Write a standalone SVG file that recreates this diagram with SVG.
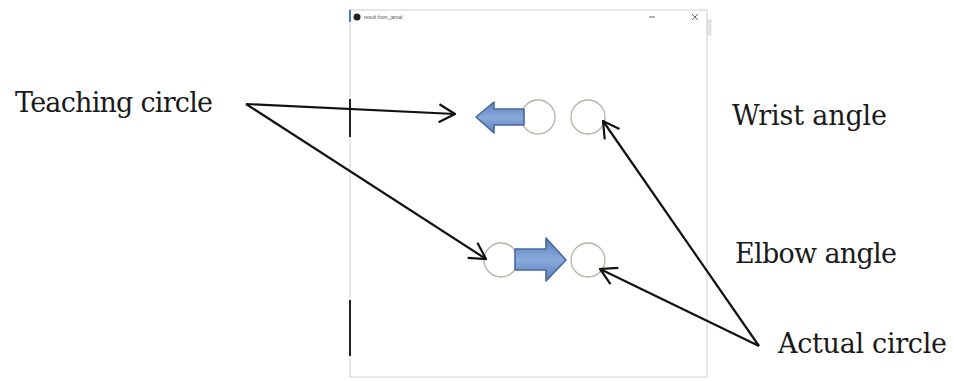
<svg xmlns="http://www.w3.org/2000/svg" width="954" height="381" viewBox="0 0 954 381">
<defs>
<style>
.lbl{font-family:"DejaVu Serif","Liberation Serif",serif;font-size:27px;fill:#1a1a1a}
.conn{stroke:#111;stroke-width:2.2;fill:none}
.circ{fill:#fff;stroke:#b8b4a8;stroke-width:1.3}
.blk{fill:url(#bg);stroke:#45689e;stroke-width:1.6;stroke-linejoin:round}
</style>
<linearGradient id="bg" x1="0" y1="0" x2="0" y2="1">
<stop offset="0" stop-color="#5a7fb8"/>
<stop offset="0.5" stop-color="#8aaadc"/>
<stop offset="1" stop-color="#5a7fb8"/>
</linearGradient>
<marker id="ah" viewBox="0 0 18 20" refX="17" refY="10" markerWidth="18" markerHeight="20" markerUnits="userSpaceOnUse" orient="auto">
<path d="M1,1 L17,10 L1,19" fill="none" stroke="#111" stroke-width="2.2"/>
</marker>
</defs>
<rect width="954" height="381" fill="#fff"/>
<g id="window">
<rect x="350" y="10" width="357" height="367" fill="#fff" stroke="#d0d0d0" stroke-width="1"/>
<line x1="350" y1="10" x2="350" y2="22" stroke="#4a78c8" stroke-width="2"/>
<circle cx="357" cy="17" r="3.5" fill="#222"/>
<text x="364" y="19" font-family="Liberation Sans,sans-serif" font-size="5" fill="#555">result from_jamal</text>
<line x1="649" y1="17" x2="655" y2="17" stroke="#666" stroke-width="1"/>
<path d="M692,14 L698,20 M698,14 L692,20" stroke="#666" stroke-width="1"/>
<rect x="707" y="20" width="4" height="15" fill="#e6e6e6" stroke="#c8c8c8" stroke-width="0.5"/>
<line x1="350" y1="99" x2="350" y2="137" stroke="#222" stroke-width="2"/>
<line x1="350" y1="300" x2="350" y2="356" stroke="#222" stroke-width="2"/>
</g>
<g id="wrist-teaching">
<circle class="circ" cx="538" cy="117" r="17"/>
<path class="blk" d="M476,117 L494,102 L494,109 L524,109 L524,125 L494,125 L494,133 Z"/>
</g>
<g id="wrist-actual">
<circle class="circ" cx="588" cy="117" r="17"/>
</g>
<g id="elbow-teaching">
<circle class="circ" cx="501" cy="260" r="17"/>
<path class="blk" d="M515,249 L546,249 L546,238 L566,260 L546,281 L546,270 L515,270 Z"/>
</g>
<g id="elbow-actual">
<circle class="circ" cx="588" cy="260" r="17"/>
</g>
<g id="labels">
<text class="lbl" x="15" y="112" textLength="198">Teaching circle</text>
<text class="lbl" x="732" y="125" textLength="155">Wrist angle</text>
<text class="lbl" x="735" y="263" textLength="162">Elbow angle</text>
<text class="lbl" x="778" y="353" textLength="169">Actual circle</text>
</g>
<g id="connectors">
<line class="conn" x1="246" y1="104" x2="455" y2="114" marker-end="url(#ah)"/>
<line class="conn" x1="246" y1="104" x2="486" y2="259" marker-end="url(#ah)"/>
<line class="conn" x1="759" y1="346" x2="603" y2="121" marker-end="url(#ah)"/>
<line class="conn" x1="759" y1="346" x2="600" y2="269" marker-end="url(#ah)"/>
</g>
</svg>
